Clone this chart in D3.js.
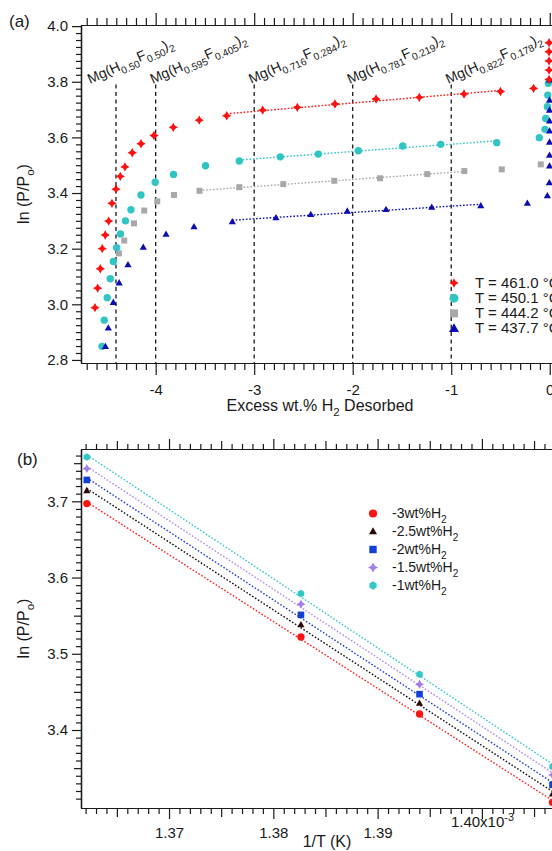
<!DOCTYPE html>
<html>
<head>
<meta charset="utf-8">
<script src="https://cdn.jsdelivr.net/npm/d3@7"></script>
<style>
  body { margin: 0; background: #fff; }
  svg { display: block; font-family: "Liberation Sans", Arial, sans-serif; }
</style>
</head>
<body>
<svg id="chart" width="552" height="851"></svg>
<script>
// ---- panel (a): ln(P/Po) vs excess wt.% H2 desorbed, one series per temperature ----
const wt461 = [-4.616, -4.589, -4.562, -4.542, -4.512, -4.477, -4.444, -4.403, -4.359, -4.312, -4.238, -4.149, -4.017, -3.821, -3.558, -3.279, -2.914, -2.562, -2.180, -1.763, -1.324, -0.870, -0.500, -0.164, -0.007, -0.007, -0.007, -0.007, -0.007];
const ln461 = [2.988, 3.058, 3.128, 3.200, 3.249, 3.299, 3.363, 3.414, 3.460, 3.494, 3.545, 3.577, 3.607, 3.636, 3.662, 3.678, 3.698, 3.708, 3.720, 3.738, 3.744, 3.756, 3.765, 3.776, 3.808, 3.842, 3.875, 3.908, 3.940];

const wt450 = [-4.545, -4.522, -4.492, -4.461, -4.430, -4.396, -4.357, -4.307, -4.251, -4.149, -4.005, -3.819, -3.494, -3.151, -2.735, -2.349, -1.943, -1.492, -1.107, -0.538, -0.106, -0.048, -0.041, -0.024, -0.020, -0.014];
const ln450 = [2.849, 2.943, 3.024, 3.092, 3.154, 3.204, 3.253, 3.300, 3.340, 3.393, 3.439, 3.467, 3.498, 3.515, 3.530, 3.540, 3.552, 3.569, 3.575, 3.581, 3.599, 3.629, 3.668, 3.710, 3.752, 3.794];

const wt444 = [-4.373, -4.319, -4.220, -4.116, -3.984, -3.814, -3.555, -3.151, -2.705, -2.187, -1.723, -1.243, -0.867, -0.487, -0.091];
const ln444 = [3.183, 3.229, 3.291, 3.337, 3.370, 3.393, 3.408, 3.421, 3.432, 3.444, 3.453, 3.468, 3.479, 3.485, 3.503];

const wt437 = [-4.510, -4.481, -4.430, -4.371, -4.281, -4.126, -3.895, -3.611, -3.222, -2.779, -2.426, -2.055, -1.662, -1.198, -0.700, -0.227, -0.024, -0.004, -0.002, -0.002, -0.002, -0.002, -0.002, -0.002, -0.002, -0.002];
const ln437 = [2.848, 2.915, 3.007, 3.077, 3.142, 3.205, 3.252, 3.279, 3.297, 3.311, 3.323, 3.335, 3.341, 3.349, 3.354, 3.363, 3.390, 3.437, 3.497, 3.536, 3.583, 3.623, 3.659, 3.698, 3.734, 3.806];

// plateau range used for the dotted fit lines
const fit461 = [-3.279, -0.500];
const fit450 = [-3.151, -0.538];
const fit444 = [-3.555, -0.867];
const fit437 = [-3.222, -0.700];

const tempLabels = ["T = 461.0 °C", "T = 450.1 °C", "T = 444.2 °C", "T = 437.7 °C"];

// composition markers
const phaseX = [-4.403, -4, -3, -2, -1];
const phaseH = ["0.50", "0.595", "0.716", "0.781", "0.822"];
const phaseF = ["0.50", "0.405", "0.284", "0.219", "0.178"];

// ---- panel (b): van 't Hoff plot ----
const invT = [1.36212, 1.38265, 1.39402, 1.40677];   // x 10^-3
const lnM3  = [3.697, 3.522, 3.421, 3.305];
const lnM25 = [3.714, 3.538, 3.435, 3.316];
const lnM2  = [3.728, 3.551, 3.447, 3.328];
const lnM15 = [3.743, 3.565, 3.460, 3.341];
const lnM1  = [3.758, 3.579, 3.473, 3.352];
const wtLabels = ["-3", "-2.5", "-2", "-1.5", "-1"];

// ---------------------------------------------------------------
const svg = d3.select("#chart");
const ink = "#1a1a1a";

// 4 point star and hexagon for d3.symbol (size = r^2)
const star4 = {
    draw(ctx, size) {
        const r = Math.sqrt(size), k = r * 0.36;
        ctx.moveTo(0, -r); ctx.lineTo(k, -k); ctx.lineTo(r, 0); ctx.lineTo(k, k);
        ctx.lineTo(0, r); ctx.lineTo(-k, k); ctx.lineTo(-r, 0); ctx.lineTo(-k, -k);
        ctx.closePath();
    }
};
const hexagon = {
    draw(ctx, size) {
        const r = Math.sqrt(size);
        for (let i = 0; i < 6; i++) {
            const a = Math.PI / 6 + i * Math.PI / 3;
            if (i == 0) ctx.moveTo(r * Math.cos(a), r * Math.sin(a));
            else ctx.lineTo(r * Math.cos(a), r * Math.sin(a));
        }
        ctx.closePath();
    }
};
const roundDot = {
    draw(ctx, size) { const r = Math.sqrt(size); ctx.moveTo(r, 0); ctx.arc(0, 0, r, 0, 2 * Math.PI); }
};
const square = {
    draw(ctx, size) { const r = Math.sqrt(size); ctx.rect(-r, -r, 2 * r, 2 * r); }
};
const triangle = {
    draw(ctx, size) {
        const r = Math.sqrt(size);
        ctx.moveTo(0, -r * 1.05); ctx.lineTo(r, r * 0.7); ctx.lineTo(-r, r * 0.7); ctx.closePath();
    }
};

// text with sub/superscripts: parts = ["text", ["2", "sub"], ...]
function rich(sel, parts, fs) {
    let off = 0;
    parts.forEach(p => {
        const [t, k] = Array.isArray(p) ? p : [p, null];
        const target = k == "sub" ? fs * 0.32 : k == "sup" ? -fs * 0.42 : 0;
        sel.append("tspan")
            .attr("dy", target - off)
            .attr("font-size", k ? fs * 0.72 : fs)
            .text(t);
        off = target;
    });
    return sel;
}

function drawAxis(g, scale, orient, ticks, fmt) {
    const mk = { bottom: d3.axisBottom, top: d3.axisTop, left: d3.axisLeft }[orient];
    const layers = [
        [ticks.minor, ticks.minLen, () => ""],
        [ticks.medium || [], ticks.medLen || ticks.minLen, () => ""],
        [ticks.major, ticks.majLen, fmt]
    ];
    layers.forEach(([vals, len, f]) => {
        const a = g.append("g")
            .call(mk(scale).tickValues(vals).tickSize(len).tickSizeOuter(0)
                .tickPadding(ticks.pad || 3).tickFormat(f));
        a.attr("font-family", null).attr("font-size", 15);
        a.selectAll("line, path").attr("stroke", ink).attr("stroke-width", 1.2);
        a.selectAll("text").attr("fill", ink);
    });
}

function fitLine(xs, ys, range) {
    const pts = xs.map((x, i) => [x, ys[i]]).filter(p => p[0] >= range[0] - 1e-9 && p[0] <= range[1] + 1e-9);
    const mx = d3.mean(pts, p => p[0]), my = d3.mean(pts, p => p[1]);
    const b = d3.sum(pts, p => (p[0] - mx) * (p[1] - my)) / d3.sum(pts, p => (p[0] - mx) ** 2);
    const a = my - b * mx;
    return [[range[0], a + b * range[0]], [range[1], a + b * range[1]]];
}

// ====================== panel (a) ======================
const A = { left: 81, top: 25, right: 559, bottom: 363 };
const xA = d3.scaleLinear().domain([-4.758, 0.094]).range([A.left, A.right]);
const yA = d3.scaleLinear().domain([2.789, 4.004]).range([A.bottom, A.top]);

const gA = svg.append("g");

const seriesA = [
    { x: wt444, y: ln444, fit: fit444, color: "#a8a8a8", type: square, size: 9, lsize: 16 },
    { x: wt450, y: ln450, fit: fit450, color: "#30c4c4", type: roundDot, size: 13.5, lsize: 20 },
    { x: wt437, y: ln437, fit: fit437, color: "#0c0cb4", type: triangle, size: 13, lsize: 25 },
    { x: wt461, y: ln461, fit: fit461, color: "#ff1010", type: star4, size: 22, lsize: 22 }
];
const legendOrderA = [3, 1, 0, 2];

// dashed composition lines
phaseX.forEach((px, i) => {
    gA.append("line")
        .attr("x1", xA(px)).attr("x2", xA(px))
        .attr("y1", yA(3.79)).attr("y2", A.bottom)
        .attr("stroke", ink).attr("stroke-width", 1.3)
        .attr("stroke-dasharray", "4,3.5");
    const tx = xA(px) + (i == 0 ? -26 : -3);
    const t = gA.append("text")
        .attr("transform", `translate(${tx},84) rotate(-24)`)
        .attr("fill", ink);
    rich(t, ["Mg(H", [phaseH[i], "sub"], "F", [phaseF[i], "sub"], ")", ["2", "sub"]], 14);
});

// fit lines
seriesA.forEach(s => {
    const seg = fitLine(s.x, s.y, s.fit);
    gA.append("line")
        .attr("x1", xA(seg[0][0])).attr("y1", yA(seg[0][1]))
        .attr("x2", xA(seg[1][0])).attr("y2", yA(seg[1][1]))
        .attr("stroke", s.color).attr("stroke-width", 1.4)
        .attr("stroke-dasharray", "1.6,1.8");
});

// markers
seriesA.forEach(s => {
    gA.append("g").selectAll("path")
        .data(s.x.map((x, i) => [x, s.y[i]]))
        .join("path")
        .attr("transform", d => `translate(${xA(d[0])},${yA(d[1])})`)
        .attr("d", d3.symbol().type(s.type).size(s.size))
        .attr("fill", s.color);
});

// axes (a)
const minorA = d3.range(-47, 1).map(i => i / 10).filter(v => Math.abs(v - Math.round(v)) > 1e-6);
const majorA = [-4, -3, -2, -1, 0];
drawAxis(gA.append("g").attr("transform", `translate(0,${A.bottom})`), xA, "bottom",
    { major: majorA, minor: minorA, majLen: 12, minLen: 7, pad: 9 }, d => String(d));
drawAxis(gA.append("g").attr("transform", `translate(0,${A.top})`), xA, "top",
    { major: majorA, minor: minorA, majLen: 12, minLen: 7 }, () => "");
const minorAy = d3.range(112, 161).map(i => i * 0.025).filter(v => Math.abs(v * 5 - Math.round(v * 5)) > 1e-6 && v <= 4.0);
drawAxis(gA.append("g").attr("transform", `translate(${A.left},0)`), yA, "left",
    { major: [2.8, 3.0, 3.2, 3.4, 3.6, 3.8, 4.0], minor: minorAy, majLen: 9, minLen: 5, pad: 4 }, d3.format(".1f"));

// legend (a)
const legA = gA.append("g").attr("transform", "translate(454,283)");
legendOrderA.forEach((si, r) => {
    const s = seriesA[si];
    legA.append("path")
        .attr("transform", `translate(0,${r * 15.2})`)
        .attr("d", d3.symbol().type(s.type).size(s.lsize))
        .attr("fill", s.color);
    legA.append("text")
        .attr("x", 21).attr("y", r * 15.2 + 4.8)
        .attr("font-size", 15).attr("fill", ink)
        .text(tempLabels[r]);
});

// titles (a)
rich(gA.append("text").attr("x", 320).attr("y", 411).attr("text-anchor", "middle").attr("fill", ink),
    ["Excess wt.% H", ["2", "sub"], " Desorbed"], 16);
rich(gA.append("text").attr("transform", `translate(29,${(A.top + A.bottom) / 2}) rotate(-90)`)
    .attr("text-anchor", "middle").attr("fill", ink),
    ["ln (P/P", ["o", "sub"], ")"], 16);
gA.append("text").attr("x", 9).attr("y", 27).attr("font-size", 17).attr("fill", ink).text("(a)");

// ====================== panel (b) ======================
const B = { left: 81, top: 449, right: 572, bottom: 808 };
const xB = d3.scaleLinear().domain([1.36156, 1.408639]).range([B.left, B.right]);
const yB = d3.scaleLinear().domain([3.2977, 3.7686]).range([B.bottom, B.top]);

const gB = svg.append("g");

const seriesB = [
    { y: lnM3,  color: "#ff1414", line: "#ff2020", type: roundDot, size: 13.5 },
    { y: lnM25, color: "#2e0606", line: "#111111", type: triangle, size: 13 },
    { y: lnM2,  color: "#1240d6", line: "#2040d0", type: square, size: 11 },
    { y: lnM15, color: "#a47ee6", line: "#b488e8", type: star4, size: 20 },
    { y: lnM1,  color: "#30c8c8", line: "#30c8c8", type: hexagon, size: 14 }
];

seriesB.forEach(s => {
    const seg = fitLine(invT, s.y, [invT[0], invT[invT.length - 1]]);
    gB.append("line")
        .attr("x1", xB(seg[0][0])).attr("y1", yB(seg[0][1]))
        .attr("x2", xB(seg[1][0])).attr("y2", yB(seg[1][1]))
        .attr("stroke", s.line).attr("stroke-width", 1.4)
        .attr("stroke-dasharray", "1.6,1.8");
});
seriesB.forEach(s => {
    gB.append("g").selectAll("path")
        .data(invT.map((x, i) => [x, s.y[i]]))
        .join("path")
        .attr("transform", d => `translate(${xB(d[0])},${yB(d[1])})`)
        .attr("d", d3.symbol().type(s.type).size(s.size))
        .attr("fill", s.color);
});

// axes (b)
const majorB = [1.37, 1.38, 1.39, 1.40];
const mediumB = [1.365, 1.375, 1.385, 1.395, 1.405];
const minorB = d3.range(1362, 1409).map(i => i / 1000).filter(v => Math.abs(v * 200 - Math.round(v * 200)) > 1e-6);
const fmtB = d => d3.format(".2f")(d);
const xbAxis = gB.append("g").attr("transform", `translate(0,${B.bottom})`);
drawAxis(xbAxis, xB, "bottom",
    { major: majorB, medium: mediumB, minor: minorB, majLen: 11, medLen: 9, minLen: 6, pad: 8 }, fmtB);
// exponent on the last label
xbAxis.selectAll(".tick text").filter(d => Math.abs(d - 1.40) < 1e-9)
    .each(function () {
        const t = d3.select(this).text("");
        rich(t, ["1.40x10", ["-3", "sup"]], 15);
    });
drawAxis(gB.append("g").attr("transform", `translate(0,${B.top})`), xB, "top",
    { major: majorB, medium: mediumB, minor: minorB, majLen: 10, medLen: 8, minLen: 5 }, () => "");
const majorBy = [3.4, 3.5, 3.6, 3.7];
const mediumBy = [3.35, 3.45, 3.55, 3.65, 3.75];
const minorBy = d3.range(330, 377).map(i => i / 100).filter(v => Math.abs(v * 20 - Math.round(v * 20)) > 1e-6);
drawAxis(gB.append("g").attr("transform", `translate(${B.left},0)`), yB, "left",
    { major: majorBy, medium: mediumBy, minor: minorBy, majLen: 9, medLen: 7, minLen: 5, pad: 4 }, d3.format(".1f"));

// legend (b)
const legB = gB.append("g").attr("transform", "translate(373,513.5)");
seriesB.forEach((s, r) => {
    legB.append("path")
        .attr("transform", `translate(0,${r * 18})`)
        .attr("d", d3.symbol().type(s.type).size(s.size * 1.25))
        .attr("fill", s.color);
    rich(legB.append("text").attr("x", 19).attr("y", r * 18 + 4.8).attr("fill", ink),
        [wtLabels[r] + "wt%H", ["2", "sub"]], 14);
});

// titles (b)
gB.append("text").attr("x", 327).attr("y", 847).attr("text-anchor", "middle")
    .attr("font-size", 16).attr("fill", ink).text("1/T (K)");
rich(gB.append("text").attr("transform", `translate(29,${(B.top + B.bottom) / 2}) rotate(-90)`)
    .attr("text-anchor", "middle").attr("fill", ink),
    ["ln (P/P", ["o", "sub"], ")"], 16);
gB.append("text").attr("x", 17).attr("y", 465).attr("font-size", 17).attr("fill", ink).text("(b)");
</script>
</body>
</html>
